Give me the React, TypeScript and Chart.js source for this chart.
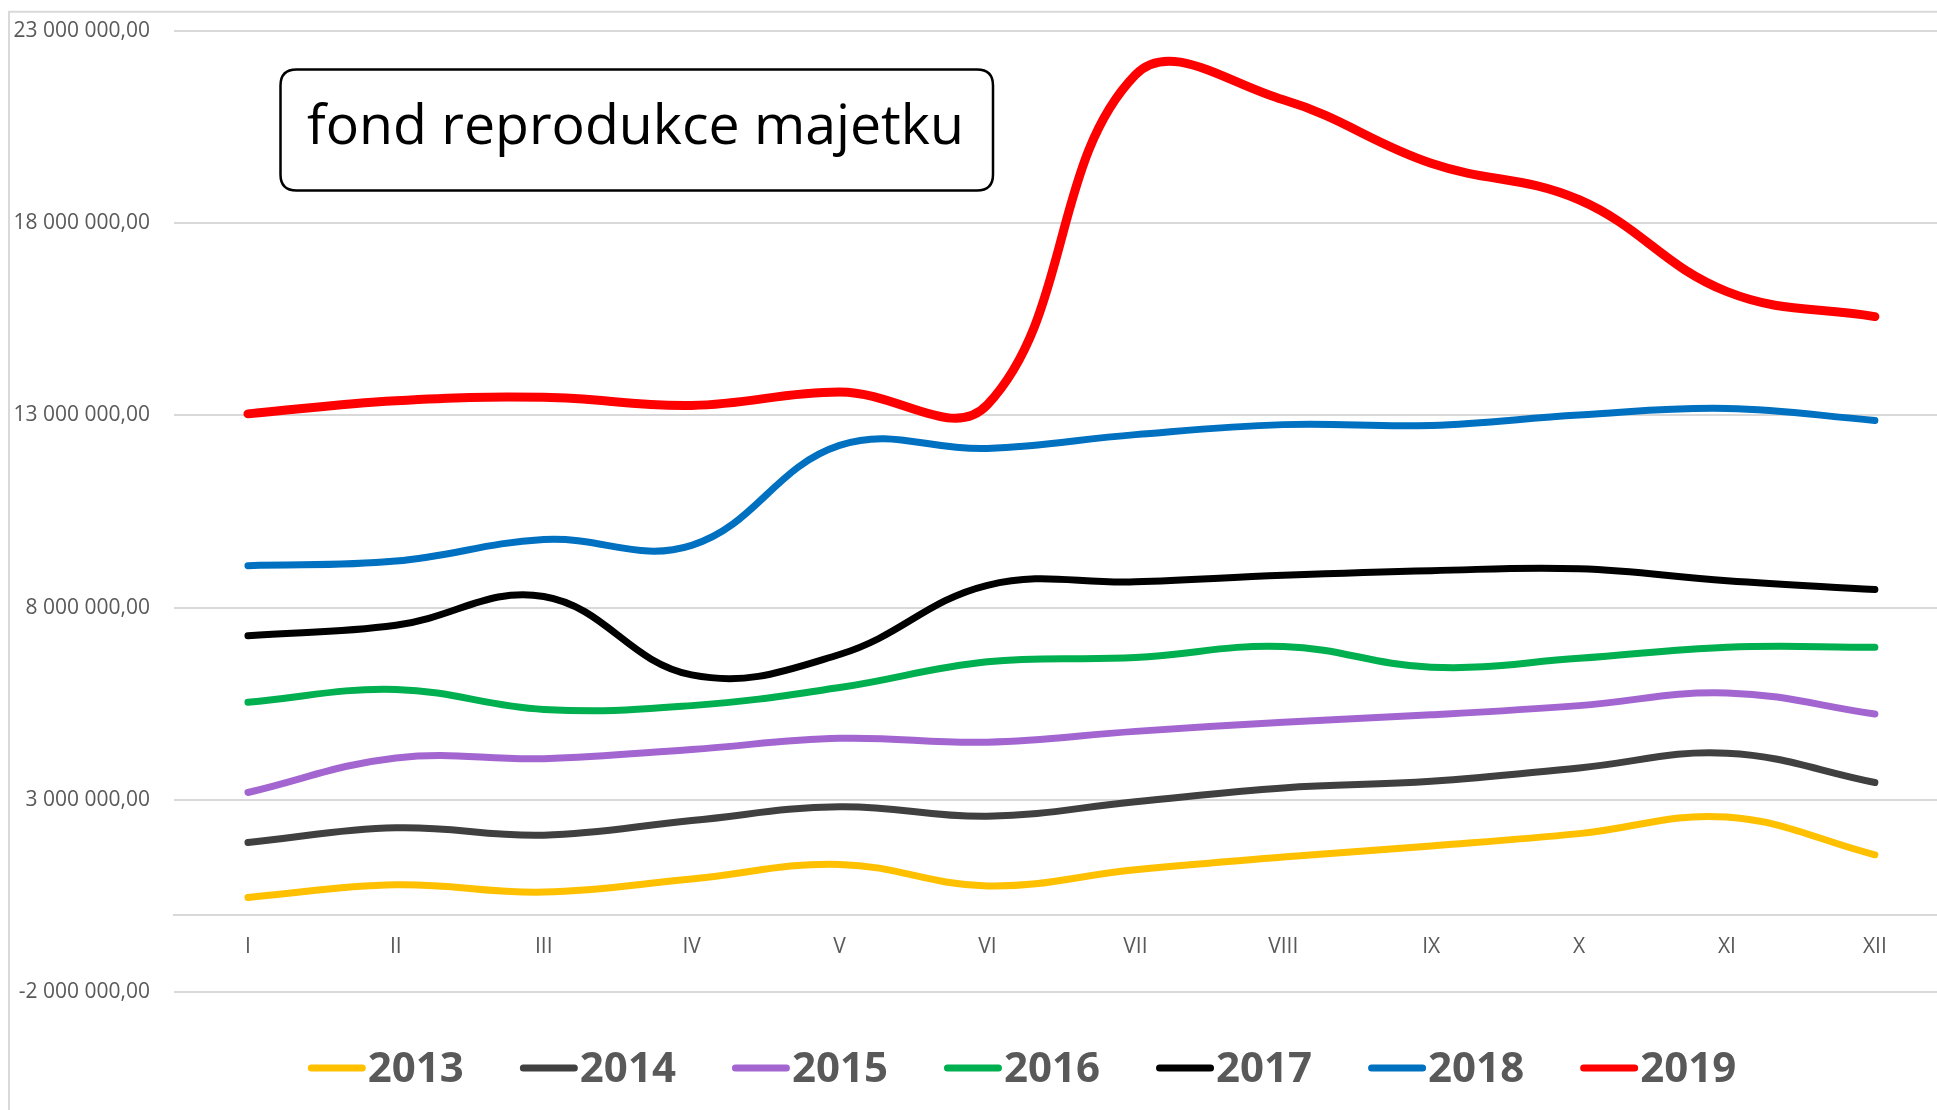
import React, { useEffect, useRef } from "react";
import { Chart, registerables } from "chart.js";

Chart.register(...registerables);

const months = ["I", "II", "III", "IV", "V", "VI", "VII", "VIII", "IX", "X", "XI", "XII"];
const years = ["2013", "2014", "2015", "2016", "2017", "2018", "2019"];

const v2013 = [460000, 790000, 600000, 940000, 1320000, 760000, 1180000, 1510000, 1800000, 2120000, 2550000, 1570000];
const v2014 = [1890000, 2270000, 2080000, 2460000, 2820000, 2570000, 2950000, 3310000, 3480000, 3830000, 4210000, 3450000];
const v2015 = [3190000, 4090000, 4070000, 4310000, 4600000, 4500000, 4780000, 5020000, 5210000, 5450000, 5780000, 5230000];
const v2016 = [5540000, 5870000, 5350000, 5450000, 5920000, 6590000, 6700000, 6990000, 6450000, 6680000, 6970000, 6970000];
const v2017 = [7270000, 7540000, 8290000, 6250000, 6780000, 8580000, 8670000, 8840000, 8960000, 9010000, 8700000, 8470000];
const v2018 = [9090000, 9210000, 9770000, 9620000, 12220000, 12140000, 12500000, 12760000, 12740000, 13010000, 13180000, 12870000];
const v2019 = [13040000, 13380000, 13470000, 13260000, 13610000, 13280000, 21860000, 21210000, 19560000, 18610000, 16220000, 15570000];

const seriesValues = [v2013, v2014, v2015, v2016, v2017, v2018, v2019];
const seriesColors = ["#FFC000", "#404040", "#A366D1", "#00B050", "#000000", "#0070C0", "#FF0000"];
const seriesWidths = [7, 7, 7, 7, 7, 7, 9];

const yTicks = [-2000000, 3000000, 8000000, 13000000, 18000000, 23000000];
const titleText = "fond reprodukce majetku";

const FONT = '"Open Sans", "DejaVu Sans", sans-serif';
const GRID = "#D9D9D9";
const LABEL = "#595959";
const W = 1929;
const H = 1102;

function fmt(v: number): string {
  const neg = v < 0;
  const s = Math.round(Math.abs(v)).toString().replace(/\B(?=(\d{3})+(?!\d))/g, " ");
  return (neg ? "-" : "") + s + ",00";
}

const decorPlugin = {
  id: "decor",
  beforeDraw(chart: any) {
    const ctx = chart.ctx;
    ctx.save();
    ctx.fillStyle = "#FFFFFF";
    ctx.fillRect(0, 0, chart.width, chart.height);
    ctx.strokeStyle = GRID;
    ctx.lineWidth = 2;
    ctx.beginPath();
    ctx.moveTo(1, chart.height + 10);
    ctx.lineTo(1, 3.7);
    ctx.lineTo(chart.width + 10, 3.7);
    ctx.stroke();
    ctx.restore();
  },
  afterDraw(chart: any) {
    const ctx = chart.ctx;
    ctx.save();
    // title box
    const bx = 272.5, by = 61.5, bw = 712.5, bh = 121, r = 16;
    ctx.beginPath();
    ctx.moveTo(bx + r, by);
    ctx.lineTo(bx + bw - r, by);
    ctx.quadraticCurveTo(bx + bw, by, bx + bw, by + r);
    ctx.lineTo(bx + bw, by + bh - r);
    ctx.quadraticCurveTo(bx + bw, by + bh, bx + bw - r, by + bh);
    ctx.lineTo(bx + r, by + bh);
    ctx.quadraticCurveTo(bx, by + bh, bx, by + bh - r);
    ctx.lineTo(bx, by + r);
    ctx.quadraticCurveTo(bx, by, bx + r, by);
    ctx.closePath();
    ctx.fillStyle = "#FFFFFF";
    ctx.fill();
    ctx.strokeStyle = "#000000";
    ctx.lineWidth = 2.5;
    ctx.stroke();

    ctx.font = `55px ${FONT}`;
    const w0 = ctx.measureText(titleText).width;
    const size = 55 * 657 / w0;
    ctx.font = `${size}px ${FONT}`;
    ctx.fillStyle = "#000000";
    ctx.textAlign = "center";
    ctx.textBaseline = "alphabetic";
    ctx.fillText(titleText, 627.5, 135.5);

    // legend
    ctx.font = `bold 42px ${FONT}`;
    const markerW = 58;
    const textGap = 2;
    const itemGap = 56;
    const items = chart.data.datasets.map((ds: any) => ({
      label: ds.label,
      color: ds.borderColor,
      tw: ctx.measureText(ds.label).width,
    }));
    const total = items.reduce((a: number, it: any) => a + markerW + textGap + it.tw, 0) + itemGap * (items.length - 1);
    let x = 1014 - total / 2;
    const yMid = 1060;
    ctx.textAlign = "left";
    items.forEach((it: any) => {
      ctx.strokeStyle = it.color;
      ctx.lineWidth = 7;
      ctx.lineCap = "round";
      ctx.beginPath();
      ctx.moveTo(x + 3.5, yMid);
      ctx.lineTo(x + markerW - 3.5, yMid);
      ctx.stroke();
      ctx.fillStyle = LABEL;
      ctx.fillText(it.label, x + markerW + textGap, 1074);
      x += markerW + textGap + it.tw + itemGap;
    });
    ctx.restore();
  },
};

export default function App() {
  const ref = useRef<HTMLCanvasElement | null>(null);

  useEffect(() => {
    document.documentElement.style.overflow = "hidden";
    if (!ref.current) return;
    const datasets = years.map((y, i) => ({
      label: y,
      data: seriesValues[i].map((v, j) => ({ x: j, y: v })),
      borderColor: seriesColors[i],
      backgroundColor: seriesColors[i],
      borderWidth: seriesWidths[i],
      borderCapStyle: "round" as const,
      borderJoinStyle: "round" as const,
      pointRadius: 0,
      pointHoverRadius: 0,
      tension: 0.4,
      fill: false,
      clip: false as any,
      order: years.length - i,
    }));
    const chart = new Chart(ref.current, {
      type: "line",
      data: { datasets },
      plugins: [decorPlugin],
      options: {
        animation: false,
        responsive: false,
        devicePixelRatio: 1,
        layout: { autoPadding: false, padding: { left: 0, right: 0, top: 23, bottom: 118 } },
        plugins: { legend: { display: false }, tooltip: { enabled: false } },
        scales: {
          x: {
            type: "linear",
            position: { y: 0 } as any,
            min: -0.5,
            max: 11.42,
            grid: { display: false, drawTicks: false },
            border: { display: true, color: GRID, width: 2 },
            ticks: {
              padding: 19,
              color: LABEL,
              font: { family: FONT, size: 21 },
              callback: (v: any) => months[v as number] ?? "",
            },
            afterBuildTicks: (scale: any) => {
              scale.ticks = months.map((_, i) => ({ value: i }));
            },
            afterFit: (scale: any) => {
              scale.height = 0;
              scale.paddingLeft = 0;
              scale.paddingRight = 0;
              scale.paddingTop = 0;
              scale.paddingBottom = 0;
            },
          },
          y: {
            type: "linear",
            min: yTicks[0],
            max: yTicks[yTicks.length - 1],
            grid: { color: GRID, lineWidth: 2, drawTicks: false },
            border: { display: false },
            ticks: {
              padding: 24,
              color: LABEL,
              font: { family: FONT, size: 21 },
              callback: (v: any) => fmt(v as number),
            },
            afterBuildTicks: (scale: any) => {
              scale.ticks = yTicks.map((v) => ({ value: v }));
            },
            afterFit: (scale: any) => {
              scale.width = 166;
              scale.paddingLeft = 0;
              scale.paddingRight = 0;
              scale.paddingTop = 0;
              scale.paddingBottom = 0;
            },
          },
        },
      },
    });
    return () => chart.destroy();
  }, []);

  return (
    <div style={{ position: "absolute", left: 8, top: 8, width: W, height: H }}>
      <canvas
        ref={ref}
        width={W}
        height={H}
        style={{ display: "block", width: `${W}px`, height: `${H}px`, maxWidth: "none" }}
      />
    </div>
  );
}
